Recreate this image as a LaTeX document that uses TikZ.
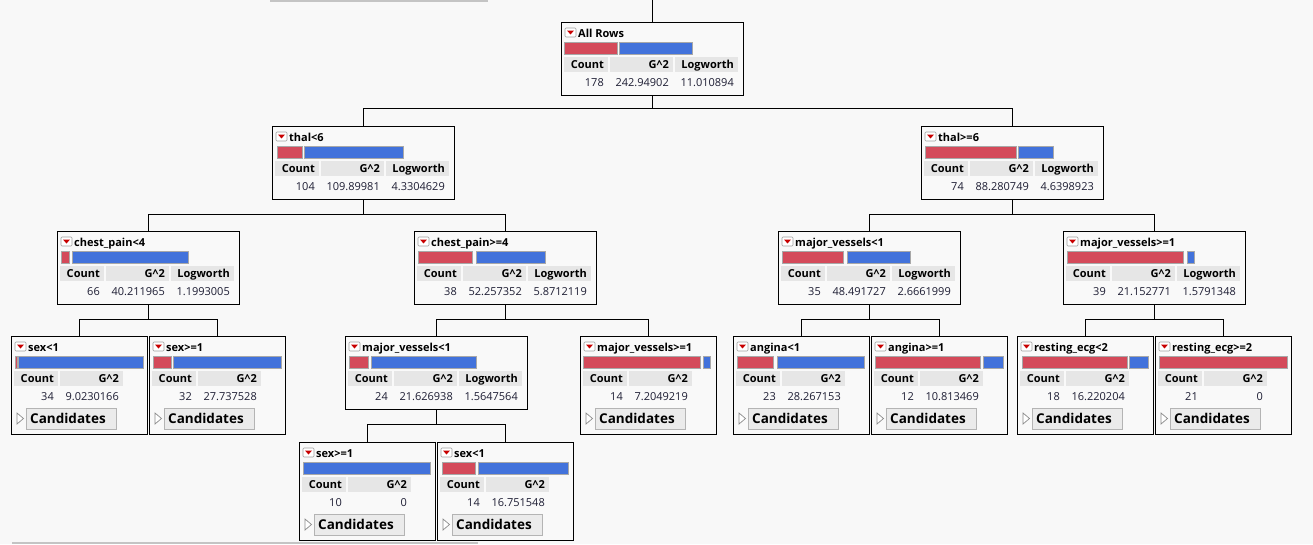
\documentclass[tikz,border=0pt]{standalone}
\usepackage{fontspec}
\setmainfont{Open Sans}
\definecolor{bgc}{HTML}{F8F8F8}
\definecolor{boxc}{HTML}{F9F9F9}
\definecolor{cellc}{HTML}{E6E6E6}
\definecolor{redc}{HTML}{D44A5A}
\definecolor{bluec}{HTML}{4272DB}
\definecolor{barline}{HTML}{A8A8A8}
\definecolor{valc}{HTML}{1E1E34}
\definecolor{icong}{HTML}{A0A0A0}
\definecolor{iconred}{HTML}{C80000}
\definecolor{btnc}{HTML}{EBEBEB}
\definecolor{btnl}{HTML}{B4B4B4}
\definecolor{trig}{HTML}{8C8C8C}
\definecolor{scrollc}{HTML}{C4C4C4}
\tikzset{
  tbox/.style={draw=black, line width=0.95pt, fill=boxc, anchor=north west, inner sep=0pt, outer sep=0pt},
  splitbox/.style={tbox, minimum width=182pt, minimum height=73pt},
  leafbox/.style={tbox, minimum width=136pt, minimum height=98pt},
  ttl/.style={font=\bfseries\fontsize{11}{13}\selectfont, anchor=base west, inner sep=0pt},
  hd/.style={font=\bfseries\fontsize{11}{13}\selectfont, anchor=base east, inner sep=0pt},
  val/.style={font=\fontsize{11}{13}\selectfont, text=valc, anchor=base east, inner sep=0pt},
  btntxt/.style={font=\bfseries\fontsize{13.5}{15}\selectfont, anchor=base west, inner sep=0pt},
  cell/.style={fill=cellc},
  redbar/.style={fill=redc, draw=barline, line width=0.7pt},
  bluebar/.style={fill=bluec, draw=barline, line width=0.7pt},
  conn/.style={draw=black, line width=0.9pt},
}
\newcommand{\treeicon}[2]{%
  \filldraw[fill=white, draw=icong, rounded corners=1pt, line width=0.6pt] (#1+4,#2+6) rectangle (#1+15,#2+15);
  \fill[iconred] (#1+6,#2+8.5) -- (#1+13,#2+8.5) -- (#1+9.5,#2+12.5) -- cycle;
}
\newcommand{\splitnode}[7]{%
  \node[splitbox] (#1) at (#2,#3) {};
  \treeicon{#2}{#3}
  \node[ttl] (#1-t) at (#2+17,#3+15) {#4};
  \fill[cell] (#2+3,#3+35) rectangle (#2+47,#3+50);
  \fill[cell] (#2+48.5,#3+35) rectangle (#2+112,#3+50);
  \fill[cell] (#2+113.5,#3+35) rectangle (#2+177,#3+50);
  \node[hd] (#1-h1) at (#2+43,#3+46.5) {Count};
  \node[hd] (#1-h2) at (#2+108,#3+46.5) {G\textasciicircum 2};
  \node[hd] (#1-h3) at (#2+173,#3+46.5) {Logworth};
  \node[val] (#1-v1) at (#2+43,#3+64) {#5};
  \node[val] (#1-v2) at (#2+108,#3+64) {#6};
  \node[val] (#1-v3) at (#2+173,#3+64) {#7};
}
\newcommand{\leafnode}[6]{%
  \node[leafbox] (#1) at (#2,#3) {};
  \treeicon{#2}{#3}
  \node[ttl] (#1-t) at (#2+17,#3+15) {#4};
  \fill[cell] (#2+3,#3+35) rectangle (#2+47,#3+50);
  \fill[cell] (#2+48.5,#3+35) rectangle (#2+112,#3+50);
  \node[hd] (#1-h1) at (#2+43,#3+46.5) {Count};
  \node[hd] (#1-h2) at (#2+108,#3+46.5) {G\textasciicircum 2};
  \node[val] (#1-v1) at (#2+43,#3+64) {#5};
  \node[val] (#1-v2) at (#2+108,#3+64) {#6};
  \filldraw[fill=white, draw=trig, line width=0.7pt] (#2+6,#3+77) -- (#2+12.5,#3+82.5) -- (#2+6,#3+88) -- cycle;
  \filldraw[fill=btnc, draw=btnl, line width=0.8pt] (#2+15.5,#3+72) rectangle (#2+105,#3+93);
  \node[btntxt] (#1-b) at (#2+19,#3+87) {Candidates};
}
\newcommand{\rbar}[3]{\filldraw[redbar] (#2,#1+20.5) rectangle (#3,#1+32);}
\newcommand{\bbar}[3]{\filldraw[bluebar] (#2,#1+20.5) rectangle (#3,#1+32);}
\begin{document}
\begin{tikzpicture}[x=1pt, y=-1pt]
  \fill[bgc] (0,0) rectangle (1313,544);
  \useasboundingbox (0,0) rectangle (1313,544);
  % frame remnants
  \fill[scrollc] (270,0) rectangle (488,2);
  \fill[scrollc] (12,541.5) rectangle (478,544);

  % nodes
  \splitnode{root}{561}{22}{All Rows}{178}{242.94902}{11.010894}
  \rbar{22}{564}{617}\bbar{22}{619}{692}

  \splitnode{thalL}{272}{126}{thal<6}{104}{109.89981}{4.3304629}
  \rbar{126}{277}{302}\bbar{126}{304}{403}

  \splitnode{thalR}{921}{126}{thal>=6}{74}{88.280749}{4.6398923}
  \rbar{126}{925}{1016}\bbar{126}{1018}{1053}

  \splitnode{cpL}{57}{231}{chest\_pain<4}{66}{40.211965}{1.1993005}
  \rbar{231}{61}{69}\bbar{231}{72}{188}

  \splitnode{cpR}{414}{231}{chest\_pain>=4}{38}{52.257352}{5.8712119}
  \rbar{231}{418}{472}\bbar{231}{476}{545}

  \splitnode{mvRa}{778}{231}{major\_vessels<1}{35}{48.491727}{2.6661999}
  \rbar{231}{782}{843}\bbar{231}{847}{910}

  \splitnode{mvRb}{1063}{231}{major\_vessels>=1}{39}{21.152771}{1.5791348}
  \rbar{231}{1067}{1183}\bbar{231}{1187}{1194}

  \splitnode{mvMa}{345}{336}{major\_vessels<1}{24}{21.626938}{1.5647564}
  \rbar{336}{349}{368}\bbar{336}{371}{476}

  \leafnode{sexA}{11}{336}{sex<1}{34}{9.0230166}
  \rbar{336}{15}{17}\bbar{336}{18.5}{143}

  \leafnode{sexB}{149}{336}{sex>=1}{32}{27.737528}
  \rbar{336}{153}{171}\bbar{336}{173}{281}

  \leafnode{mvMb}{580}{336}{major\_vessels>=1}{14}{7.2049219}
  \rbar{336}{583}{700}\bbar{336}{703}{710}

  \leafnode{angA}{733}{336}{angina<1}{23}{28.267153}
  \rbar{336}{737}{773}\bbar{336}{777}{864}

  \leafnode{angB}{871}{336}{angina>=1}{12}{10.813469}
  \rbar{336}{875}{980}\bbar{336}{983}{1003}

  \leafnode{recA}{1017}{336}{resting\_ecg<2}{18}{16.220204}
  \rbar{336}{1022}{1127}\bbar{336}{1129}{1148}

  \leafnode{recB}{1155}{336}{resting\_ecg>=2}{21}{0}
  \rbar{336}{1159}{1287}

  \leafnode{sexC}{299}{442}{sex>=1}{10}{0}
  \bbar{442}{303}{430}

  \leafnode{sexD}{437}{442}{sex<1}{14}{16.751548}
  \rbar{442}{442}{475}\bbar{442}{478}{568}

  % connectors
  \coordinate (top) at (652,0);
  \draw[conn] (top) -- (root.north);
  \draw[conn] (root.south) -- ++(0,13) -| (thalL.north);
  \draw[conn] (root.south) -- ++(0,13) -| (thalR.north);
  \draw[conn] (thalL.south) -- ++(0,15) -| (cpL.north);
  \draw[conn] (thalL.south) -- ++(0,15) -| (cpR.north);
  \draw[conn] (thalR.south) -- ++(0,15) -| (mvRa.north);
  \draw[conn] (thalR.south) -- ++(0,15) -| (mvRb.north);
  \draw[conn] (cpL.south) -- ++(0,15) -| (sexA.north);
  \draw[conn] (cpL.south) -- ++(0,15) -| (sexB.north);
  \draw[conn] (cpR.south) -- ++(0,15) -| (mvMa.north);
  \draw[conn] (cpR.south) -- ++(0,15) -| (mvMb.north);
  \draw[conn] (mvRa.south) -- ++(0,15) -| (angA.north);
  \draw[conn] (mvRa.south) -- ++(0,15) -| (angB.north);
  \draw[conn] (mvRb.south) -- ++(0,15) -| (recA.north);
  \draw[conn] (mvRb.south) -- ++(0,15) -| (recB.north);
  \draw[conn] (mvMa.south) -- ++(0,15) -| (sexC.north);
  \draw[conn] (mvMa.south) -- ++(0,15) -| (sexD.north);
\end{tikzpicture}
\end{document}
